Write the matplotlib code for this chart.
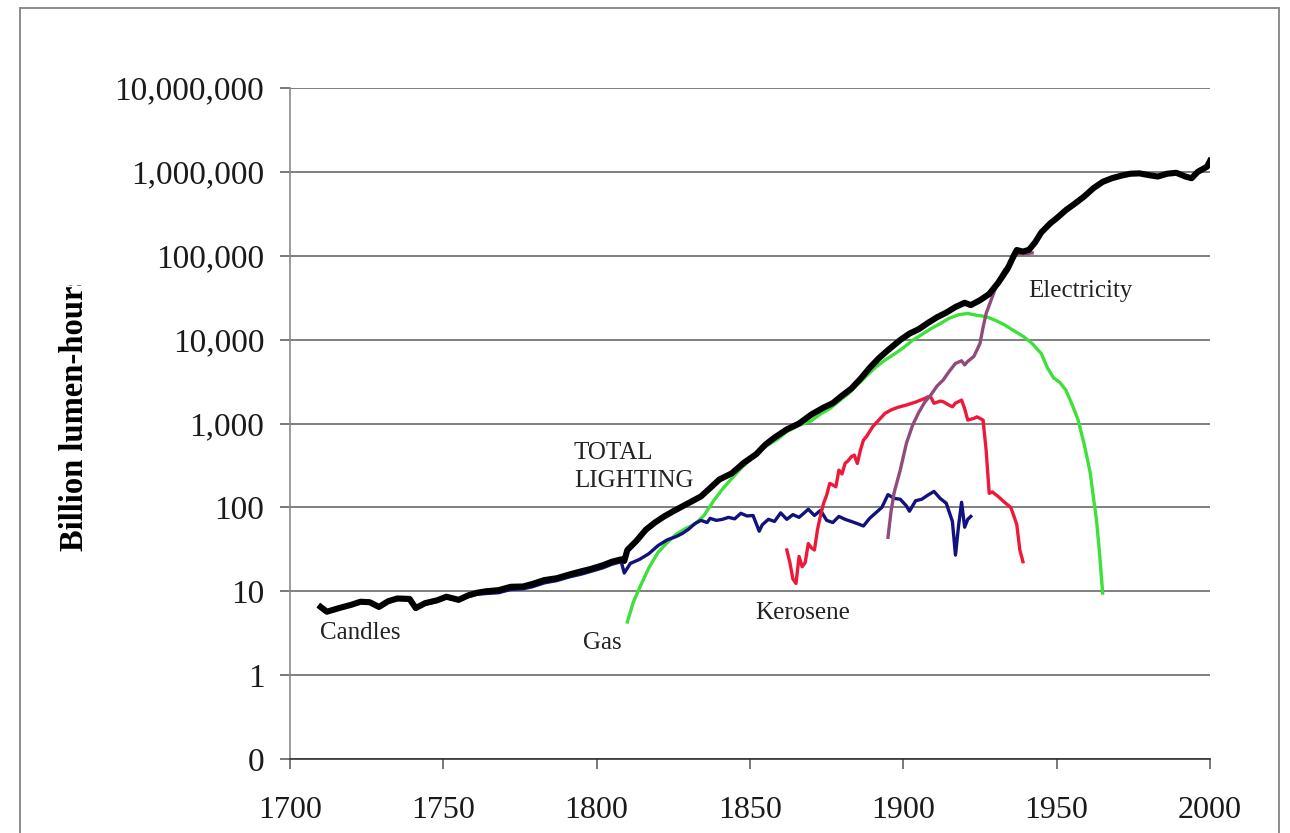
import numpy as np
import matplotlib.pyplot as plt
from matplotlib.ticker import FixedLocator, FuncFormatter, NullLocator
from matplotlib.lines import Line2D
from matplotlib.transforms import Bbox

# total lighting (black)
total_years = [1710, 1712, 1716, 1720, 1723, 1726, 1729, 1732, 1735, 1739, 1741, 1744, 1748,
               1751, 1755, 1758, 1761, 1764, 1768, 1772, 1776, 1779, 1783, 1787, 1791, 1795,
               1798, 1802, 1805, 1808, 1809, 1810, 1813, 1816, 1819, 1822, 1825, 1828, 1831,
               1834, 1837, 1840, 1844, 1848, 1852, 1855, 1858, 1862, 1866, 1870, 1874, 1877,
               1880, 1883, 1886, 1889, 1892, 1895, 1899, 1902, 1905, 1908, 1911, 1914, 1917,
               1920, 1922, 1925, 1928, 1931, 1934, 1936, 1937, 1939, 1941, 1943, 1945, 1948,
               1950, 1953, 1956, 1959, 1962, 1965, 1968, 1971, 1974, 1977, 1980, 1983, 1986,
               1989, 1992, 1994, 1996, 1998, 1999, 2000]
total_vals = [6.5, 5.7, 6.3, 6.9, 7.5, 7.4, 6.5, 7.6, 8.2, 8.1, 6.3, 7.2, 7.8,
              8.6, 7.9, 8.9, 9.6, 10.0, 10.3, 11.3, 11.4, 12.2, 13.6, 14.3, 15.8, 17.3,
              18.4, 20.4, 22.5, 24.0, 23.0, 31, 40, 54, 66, 78, 90, 103, 118,
              135, 170, 215, 254, 340, 430, 560, 680, 850, 1000, 1280, 1550, 1750,
              2150, 2600, 3400, 4600, 6000, 7500, 9900, 11800, 13300, 15800, 18500, 21000, 24500,
              27500, 25800, 29500, 35000, 48000, 70000, 100000, 117000, 112000, 118000, 145000, 190000, 245000,
              280000, 350000, 420000, 510000, 640000, 760000, 840000, 900000, 950000, 960000, 915000, 880000, 950000,
              975000, 880000, 840000, 1000000, 1100000, 1150000, 1350000]

# candles (navy)
candle_years = [1710, 1712, 1716, 1720, 1723, 1726, 1729, 1732, 1735, 1739, 1741, 1744, 1748,
                1751, 1755, 1758, 1761, 1764, 1768, 1772, 1776, 1779, 1783, 1787, 1791, 1795,
                1798, 1802, 1805, 1808, 1809, 1811, 1814, 1817, 1820, 1823, 1826, 1828, 1830,
                1832, 1834, 1836, 1837, 1839, 1841, 1843, 1845, 1847, 1849, 1851, 1853, 1854,
                1856, 1858, 1860, 1862, 1864, 1866, 1868, 1869, 1871, 1873, 1875, 1877, 1879,
                1881, 1883, 1885, 1887, 1889, 1891, 1893, 1895, 1897, 1899, 1901, 1902, 1904,
                1906, 1908, 1910, 1912, 1914, 1916, 1917, 1918, 1919, 1920, 1921, 1922]
candle_vals = [6.3, 5.6, 6.2, 6.8, 7.3, 7.2, 6.4, 7.4, 8.0, 7.9, 6.2, 7.0, 7.6,
               8.4, 7.7, 8.6, 9.2, 9.4, 9.6, 10.5, 10.7, 11.3, 12.6, 13.4, 14.8, 16.0,
               17.2, 19.0, 21.0, 22.5, 16.5, 21.5, 24, 28, 35, 41, 45, 49, 55,
               64, 70, 66, 74, 70, 72, 76, 73, 85, 79, 80, 52, 62,
               72, 68, 86, 72, 82, 76, 88, 95, 80, 92, 70, 66, 78,
               72, 68, 64, 60, 74, 86, 100, 142, 128, 125, 104, 90, 120,
               125, 140, 155, 128, 112, 68, 27, 60, 115, 58, 72, 78]

# gas (green)
gas_years = [1810, 1812, 1814, 1817, 1820, 1823, 1826, 1829, 1832, 1835, 1838, 1841, 1844,
             1847, 1850, 1853, 1856, 1859, 1862, 1866, 1870, 1873, 1876, 1879, 1882, 1885,
             1888, 1891, 1894, 1897, 1900, 1903, 1906, 1909, 1912, 1915, 1918, 1921, 1924,
             1927, 1930, 1933, 1936, 1939, 1942, 1945, 1947, 1949, 1951, 1953, 1955, 1957,
             1958, 1959, 1960, 1961, 1962, 1963, 1964, 1965]
gas_vals = [4.3, 7.5, 11, 19, 29, 38, 48, 56, 63, 80, 118, 165, 220,
            290, 370, 470, 560, 650, 800, 950, 1080, 1300, 1500, 1850, 2250, 2900,
            3700, 4700, 5700, 6700, 8000, 9800, 11500, 13500, 15500, 18000, 19800, 20500, 19500,
            18800, 17000, 15000, 12800, 11000, 9000, 6800, 4600, 3500, 3100, 2500, 1700, 1100,
            780, 560, 380, 250, 130, 70, 28, 9.5]

# kerosene (red)
kero_years = [1862, 1863, 1864, 1865, 1866, 1867, 1868, 1869, 1870, 1871, 1872, 1873, 1874,
              1875, 1876, 1877, 1878, 1879, 1880, 1881, 1882, 1883, 1884, 1885, 1886, 1887,
              1888, 1890, 1892, 1894, 1896, 1898, 1901, 1904, 1907, 1908, 1909, 1910, 1912,
              1913, 1915, 1916, 1917, 1919, 1920, 1921, 1923, 1924, 1926, 1927, 1928, 1929,
              1931, 1933, 1935, 1936, 1937, 1938, 1939]
kero_vals = [31, 22, 14, 12.4, 26, 19.6, 22, 37, 33, 31, 54, 80, 112,
             140, 193, 185, 176, 278, 250, 334, 360, 401, 420, 334, 480, 634,
             700, 914, 1100, 1320, 1450, 1550, 1660, 1800, 1990, 2080, 2050, 1740, 1850,
             1820, 1650, 1580, 1750, 1900, 1500, 1100, 1150, 1200, 1100, 480, 147, 153,
             134, 115, 100, 80, 62, 31, 22.5]

# electricity (purple)
elec_years = [1895, 1896, 1897, 1899, 1901, 1903, 1905, 1907, 1909, 1911, 1913, 1915, 1917,
              1919, 1920, 1921, 1923, 1925, 1926, 1927, 1929, 1931, 1933, 1935, 1937, 1940, 1942]
elec_vals = [44, 90, 150, 279, 580, 950, 1350, 1800, 2200, 2800, 3300, 4200, 5200,
             5600, 5000, 5500, 6300, 9000, 14000, 20500, 32300, 51200, 68000, 82000, 106000, 106000, 108000]

y_ticks = [0.1, 1, 10, 100, 1000, 10000, 100000, 1000000, 10000000]
x_ticks = [1700, 1750, 1800, 1850, 1900, 1950, 2000]

serif = "Liberation Serif"
plt.rcParams["font.family"] = serif

fig = plt.figure(figsize=(12.9, 8.33), dpi=100)
ax = fig.add_axes([290 / 1290, 74 / 833, 920 / 1290, 671 / 833])

ax.plot(gas_years, gas_vals, color="#3ee03a", lw=2.4, zorder=3)
ax.plot(candle_years, candle_vals, color="#12127e", lw=2.4, zorder=3)
ax.plot(kero_years, kero_vals, color="#ee1838", lw=2.4, zorder=3)
ax.plot(elec_years, elec_vals, color="#8e4c7c", lw=2.4, zorder=3)
ax.plot(total_years, total_vals, color="black", lw=4.4, zorder=4, solid_joinstyle="round")

ax.set_yscale("log")
ax.set_ylim(0.1, 1e7)
ax.set_xlim(1700, 2000)
ax.yaxis.set_major_locator(FixedLocator(y_ticks))
ax.yaxis.set_minor_locator(NullLocator())
ax.yaxis.set_major_formatter(FuncFormatter(lambda v, p: "0" if v < 1 else "{:,.0f}".format(v)))
ax.xaxis.set_major_locator(FixedLocator(x_ticks))

ax.grid(axis="y", color="#6a6a6a", lw=1.2, zorder=1)
for s in ["top", "right"]:
    ax.spines[s].set_visible(False)
ax.spines["left"].set_color("#8a8a8a")
ax.spines["left"].set_linewidth(1.2)
ax.spines["bottom"].set_color("#333333")
ax.spines["bottom"].set_linewidth(1.2)

ax.tick_params(axis="y", length=7.5, width=1.1, color="#555555", pad=11,
               labelsize=24, labelcolor="#1a1a1a")
ax.tick_params(axis="x", length=7.5, width=1.1, color="#555555", pad=19,
               labelsize=23, labelcolor="#1a1a1a")
for lab in ax.get_xticklabels() + ax.get_yticklabels():
    lab.set_fontfamily(serif)

txt = dict(fontsize=18, color="#222222", family=serif, zorder=5)
ax.text(1792.6, 300, "TOTAL\nLIGHTING", ha="left", va="center", linespacing=1.35, **txt)
ax.text(1709.8, 3.2, "Candles", ha="left", va="center", **txt)
ax.text(1795.5, 2.4, "Gas", ha="left", va="center", **txt)
ax.text(1851.6, 5.5, "Kerosene", ha="left", va="center", **txt)
ax.text(1940.6, 37800, "Electricity", ha="left", va="center", **txt)

ylab = fig.text(75 / 1290, (833 - 551) / 833, "Billion lumen-hours", rotation=90,
                ha="center", va="bottom", fontsize=23.5, fontweight="bold",
                family=serif, color="black")
ylab.set_clip_box(Bbox([[0, 0], [1290, 548]]))
ylab.set_clip_on(True)

# frame around the picture
x0, x1 = 20 / 1290, 1279 / 1290
y1 = 1 - 8 / 833
for xs, ys in [([x0, x0], [-0.1, y1]), ([x0, x1], [y1, y1]), ([x1, x1], [y1, -0.1])]:
    fig.add_artist(Line2D(xs, ys, transform=fig.transFigure, color="#8c8c8c", lw=1.4))

fig.savefig("out.png", dpi=100)
